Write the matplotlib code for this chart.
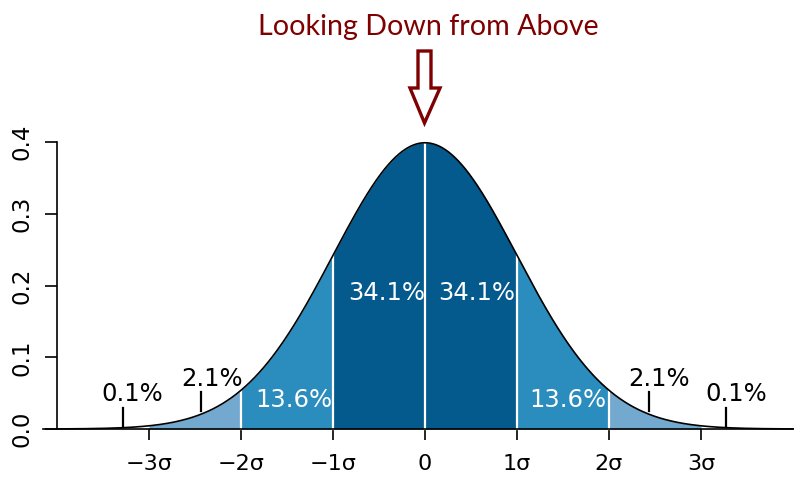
import numpy as np
import matplotlib.pyplot as plt
from matplotlib.patches import Polygon

# ---- Data ----
mu = 0.0
sd = 1.0
bands_inner = [-1, 1]          # darkest band
bands_mid = [(-2, -1), (1, 2)]
bands_outer = [(-3, -2), (2, 3)]
white_lines = [-2, -1, 0, 1, 2]
xtick_vals = [-3, -2, -1, 0, 1, 2, 3]
xtick_labels = ['\u22123\u03c3', '\u22122\u03c3', '\u22121\u03c3', '0', '1\u03c3', '2\u03c3', '3\u03c3']
ytick_vals = [0.0, 0.1, 0.2, 0.3, 0.4]

pct_text = ['0.1%', '2.1%', '13.6%', '34.1%', '34.1%', '13.6%', '2.1%', '0.1%']
pct_x = [-3.18, -2.31, -1.42, -0.42, 0.565, 1.55, 2.54, 3.38]
pct_y = [0.049, 0.070, 0.040, 0.1895, 0.1895, 0.040, 0.070, 0.049]
pct_white = [False, False, True, True, True, True, False, False]

# short pointer lines under the small percentages
mark_x = [-3.28, -2.43, 2.43, 3.27]
mark_y0 = [0.004, 0.025, 0.025, 0.004]
mark_y1 = [0.029, 0.052, 0.052, 0.029]

title = 'Looking Down from Above'

# ---- Colours ----
c_dark = '#045a8d'
c_mid = '#2b8cbe'
c_light = '#74a9cf'
c_title = '#7f0000'


def pdf(x):
    return np.exp(-0.5 * ((x - mu) / sd) ** 2) / (sd * np.sqrt(2 * np.pi))


# ---- Plot ----
fig = plt.figure(figsize=(8, 5), dpi=100)
ax = fig.add_axes([43.2 / 800, 71 / 500, 749.8 / 800, 287 / 500])
ax.set_xlim(-4.15, 4.0)
ax.set_ylim(0, 0.4)

xs = np.linspace(-4, 4, 801)
ys = pdf(xs)

def fill_band(a, b, color):
    xx = np.linspace(a, b, 200)
    ax.fill_between(xx, 0, pdf(xx), color=color, lw=0, clip_on=False)

fill_band(bands_inner[0], bands_inner[1], c_dark)
for a, b in bands_mid:
    fill_band(a, b, c_mid)
for a, b in bands_outer:
    fill_band(a, b, c_light)

for v in white_lines:
    ax.plot([v, v], [0, pdf(v)], color='white', lw=1.6, clip_on=False)

ax.plot(xs, ys, color='black', lw=1.2, clip_on=False)

for x, y0, y1 in zip(mark_x, mark_y0, mark_y1):
    ax.plot([x, x], [y0, y1], color='black', lw=1.6)

for t, x, y, w in zip(pct_text, pct_x, pct_y, pct_white):
    ax.text(x, y, t, ha='center', va='center', fontsize=17.5,
            color='white' if w else 'black')

# axes styling (R-like)
for s in ['top', 'right']:
    ax.spines[s].set_visible(False)
ax.spines['left'].set_position(('data', -4))
ax.spines['left'].set_bounds(0, 0.4)
ax.spines['left'].set_linewidth(1.2)
ax.spines['bottom'].set_linewidth(1.2)
ax.set_xticks(xtick_vals)
ax.set_xticklabels(xtick_labels, fontsize=16)
ax.set_yticks(ytick_vals)
ax.set_yticklabels(['%.1f' % v for v in ytick_vals], fontsize=16.5,
                   rotation=90, va='center')
ax.tick_params(axis='x', direction='out', length=8, width=1.2, pad=10)
ax.tick_params(axis='y', direction='out', length=9, width=1.2, pad=8)

# title and hollow arrow
fig.text(428 / 800, 1 - 35 / 500, title, ha='center', va='baseline',
         fontsize=20.6, color=c_title, family=['Lato', 'DejaVu Sans'])

arrow_px = [(418, 51), (431, 51), (431, 88), (440, 88), (424.5, 123),
            (410, 88), (418, 88)]
arrow_fig = [(x / 800, 1 - y / 500) for x, y in arrow_px]
fig.add_artist(Polygon(arrow_fig, closed=True, facecolor='white',
                       edgecolor=c_title, lw=2.4, transform=fig.transFigure))

fig.savefig('out.png', dpi=100)
